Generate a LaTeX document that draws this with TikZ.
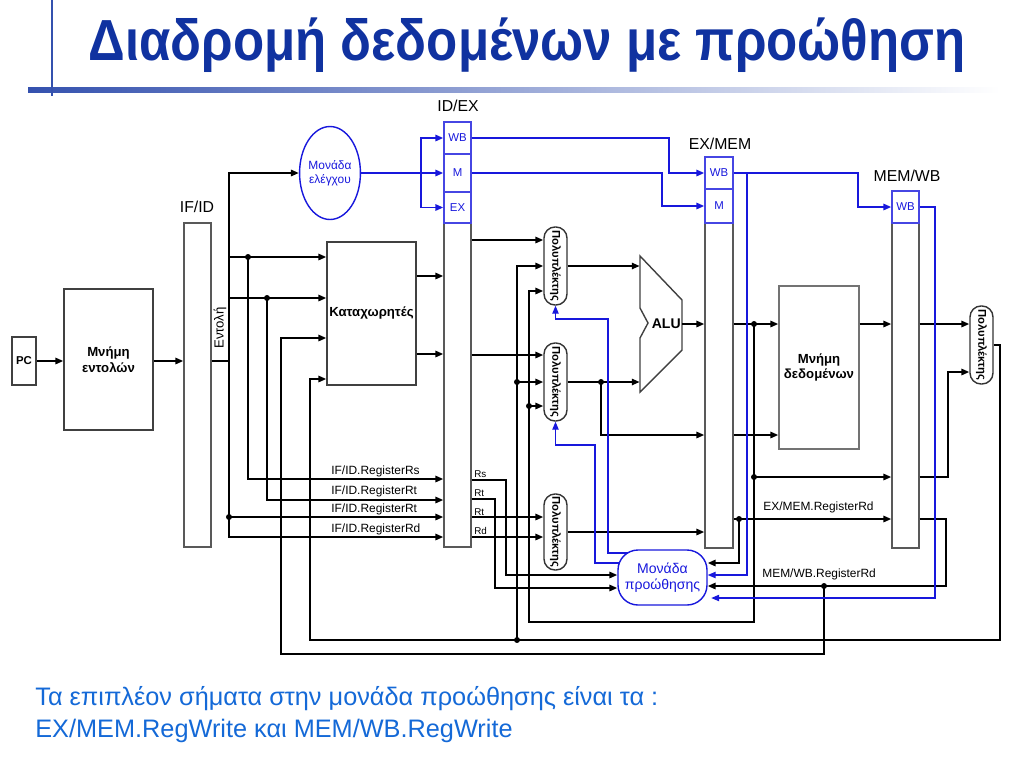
\documentclass[tikz,border=0pt]{standalone}
\usepackage{graphicx}
\usepackage{fontspec}
\setmainfont{Liberation Sans}
\usetikzlibrary{arrows.meta,shapes.geometric,fit}
\definecolor{titleblue}{RGB}{16,50,160}
\definecolor{ctrlblue}{RGB}{24,24,220}
\definecolor{noteblue}{RGB}{20,105,215}
\tikzset{
  preg/.style={draw=black!65, line width=0.8pt, inner sep=0pt},
  cbox/.style={draw=ctrlblue!80, line width=0.8pt, inner sep=0pt},
  cboxtext/.style={text=ctrlblue, font=\fontsize{6.5}{7}\selectfont},
  unit/.style={draw=black!75, line width=0.8pt, inner sep=0pt},
  unittext/.style={align=center, font=\bfseries\fontsize{7.5}{9}\selectfont},
  mux/.style={draw=black!80, line width=0.8pt, inner sep=0pt, rounded corners=0.22cm},
  wire/.style={line width=1.1pt},
  cwire/.style={ctrlblue, line width=1.1pt},
  fwire/.style={ctrlblue, line width=0.6pt},
  lbl/.style={anchor=base west, inner sep=0pt, font=\fontsize{6.8}{8}\selectfont},
  stage/.style={font=\fontsize{9}{10}\selectfont},
}
\begin{document}
\begin{tikzpicture}[x=0.02cm,y=-0.02cm,>={Triangle[length=4.5pt,width=3.6pt]}]
\useasboundingbox (0,0) rectangle (1024,768);
% title
\shade[left color=titleblue!85, right color=white] (28,87) rectangle (1000,92);
\draw[titleblue!85, line width=1.6pt] (52,0) -- (52,96);
\node[anchor=base west, inner sep=0pt, text=titleblue, font=\bfseries\fontsize{33}{36}\selectfont] (title) at (88,60) {\scalebox{0.88}[1]{Διαδρομή δεδομένων με προώθηση}};

% boxes
\node[unit, fit={(12,337) (36,385)}, label={[unittext, font=\bfseries\fontsize{6.5}{7}\selectfont]center:PC}] (pc) {};
\node[unit, fit={(64,289) (153,430)}, label={[unittext]center:Μνήμη\\εντολών}] (imem) {};
\node[unit, fit={(327,242) (416,385)}, label={[unittext]center:Καταχωρητές}] (regs) {};
\node[unit, draw=black!55, fit={(779,286) (859,449)}, label={[unittext]center:Μνήμη\\δεδομένων}] (dmem) {};
\foreach \name/\xa/\ya/\xb/\yb in {ifid/184/223/211/547, idex/444/223/471/547, exmem/705/223/733/548, mewb/892/223/919/548}
  \node[preg, fit={(\xa,\ya) (\xb,\yb)}] (\name) {};
\foreach \name/\txt/\xa/\ya/\xb/\yb in {idwb/WB/444/122/471/154, idm/M/444/154/471/192, idexb/EX/444/192/471/223, exwb/WB/705/157/733/189, exm/M/705/189/733/223, mwwb/WB/892/191/919/223}
  \node[cbox, fit={(\xa,\ya) (\xb,\yb)}, label={[cboxtext]center:\txt}] (\name) {};
\foreach \name/\xa/\ya/\xb/\yb in {muxa/544/227/567/305, muxb/544/343/567/421, muxc/544/494/567/570, wbmux/970/306/993/384}{
  \node[mux, fit={(\xa,\ya) (\xb,\yb)}] (\name) {};
  \node[rotate=-90, font=\bfseries\fontsize{6.4}{7}\selectfont] at (\name) {Πολυπλέκτης};
}
\node[ellipse, draw=ctrlblue, line width=0.8pt, inner sep=0pt, minimum width=1cm, minimum height=1.86cm, align=center, text=ctrlblue, font=\fontsize{6.8}{8}\selectfont] (ctrl) at (330,173) {Μονάδα\\ελέγχου};
\node[draw=ctrlblue, line width=0.8pt, rounded corners=0.4cm, inner sep=0pt, fit={(618,550) (707,605)}, label={[align=center, text=ctrlblue, font=\fontsize{8}{9.5}\selectfont]center:Μονάδα\\προώθησης}] (fwd) {};
\draw[black!75, line width=0.8pt] (640,256) -- (682,300) -- (682,350) -- (640,392) -- (640,338) -- (648,323) -- (640,308) -- cycle;
\node[fit={(640,256) (682,392)}, inner sep=0pt, label={[font=\bfseries\fontsize{8}{9}\selectfont, xshift=3pt]center:ALU}] (alu) {};

% labels
\node[stage] at (197,207) {IF/ID};
\node[stage] at (458,106) {ID/EX};
\node[stage] at (720,144) {EX/MEM};
\node[stage] at (907,176) {MEM/WB};
\node[rotate=90, font=\fontsize{7.5}{8}\selectfont] (instr) at (220,328) {Εντολή};
\foreach \y/\txt in {474/{IF/ID.RegisterRs}, 494/{IF/ID.RegisterRt}, 512/{IF/ID.RegisterRt}, 532/{IF/ID.RegisterRd}}
  \node[lbl] at (331,\y) {\txt};
\foreach \y/\txt in {477/Rs, 496/Rt, 515/Rt, 534/Rd}
  \node[lbl, font=\fontsize{5.6}{6}\selectfont] at (474,\y) {\txt};
\node[lbl] at (763,510) {EX/MEM.RegisterRd};
\node[lbl] at (762,577) {MEM/WB.RegisterRd};

% fetch and decode
\draw[wire,->] (pc.east) -- (imem.west |- pc.east);
\draw[wire,->] (imem.east |- pc.east) -- (ifid.west |- pc.east);
\draw[wire] (ifid.east |- pc.east) -- (229,361);
\draw[wire,<->] (ctrl.west) -| (229,537) -- (idex.west |- 0,537);
\draw[wire,->] (229,257) -- (regs.west |- 0,257);
\draw[wire,->] (229,298) -- (regs.west |- 0,298);
\draw[wire,->] (229,517) -- (idex.west |- 0,517);
\draw[wire,->] (248,257) |- (idex.west |- 0,479);
\draw[wire,->] (267,298) |- (idex.west |- 0,500);
\foreach \y in {276,354}
  \draw[wire,->] (regs.east |- 0,\y) -- (idex.west |- 0,\y);

% execute
\draw[wire,->] (idex.east |- 0,240) -- (muxa.west |- 0,240);
\draw[wire,->] (idex.east |- 0,355) -- (muxb.west |- 0,355);
\draw[wire,->] (idex.east |- 0,517) -- (muxc.west |- 0,517);
\draw[wire,->] (idex.east |- 0,537) -- (muxc.west |- 0,537);
\draw[wire,->] (idex.east |- 0,480) -| (506,575) -- (fwd.west |- 0,575);
\draw[wire,->] (idex.east |- 0,499) -| (495,588) -- (fwd.west |- 0,588);
\draw[wire,->] (muxa.east) -- (alu.west |- muxa.east);
\draw[wire,->] (muxb.east) -- (alu.west |- muxb.east);
\draw[wire,->] (601,382) |- (exmem.west |- 0,435);
\draw[wire,->] (muxc.east) -- (exmem.west |- muxc.east);
\draw[wire,->] (alu.east) -- (exmem.west |- alu.east);

% memory and write back
\draw[wire,->] (exmem.east |- 0,324) -- (dmem.west |- 0,324);
\draw[wire,->] (exmem.east |- 0,435) -- (dmem.west |- 0,435);
\draw[wire,->] (754,324) |- (529,622) -- (529,291) -- (muxa.west |- 0,291);
\draw[wire,->] (529,406) -- (muxb.west |- 0,406);
\draw[wire,->] (754,477) -- (mewb.west |- 0,477);
\draw[wire,->] (dmem.east |- 0,324) -- (mewb.west |- 0,324);
\draw[wire,->] (mewb.east |- 0,324) -- (wbmux.west |- 0,324);
\draw[wire,->] (mewb.east |- 0,477) -| (948,372) -- (wbmux.west |- 0,372);
\draw[wire,->] (wbmux.east) -| (1000,640) -| (310,379) -- (regs.west |- 0,379);
\draw[wire,->] (517,640) -- (517,266) -- (muxa.west |- 0,266);
\draw[wire,->] (517,382) -- (muxb.west |- 0,382);
\draw[wire,->] (exmem.east |- 0,519) -- (mewb.west |- 0,519);
\draw[wire,->] (739,519) |- (fwd.east |- 0,563);
\draw[wire,->] (mewb.east |- 0,519) -| (946,586) -- (fwd.east |- 0,586);
\draw[wire,->] (824,586) |- (281,654) -- (281,338) -- (regs.west |- 0,338);
\foreach \x/\y in {248/257, 267/298, 229/517, 601/382, 754/324, 754/477, 529/406, 517/382, 517/640, 739/519, 824/586}
  \fill (\x,\y) circle (1.7pt);

% control
\draw[cwire,->] (ctrl.east) -- (idm.west);
\draw[cwire,->] (421,173) |- (idwb.west);
\draw[cwire,->] (421,173) |- (idexb.west);
\draw[cwire,->] (idwb.east) -| (669,173) -- (exwb.west);
\draw[cwire,->] (idm.east) -| (662,206) -- (exm.west);
\draw[cwire,->] (exwb.east) -| (858,207) -- (mwwb.west);
\draw[fwire,->] (747,173) |- (fwd.east |- 0,575);
\draw[fwire,->, shorten >=2pt] (mwwb.east) -| (935,598) -- (fwd.east |- 0,598);
\draw[fwire,->] (628,553) -| (608,319) -| (muxa.south);
\draw[fwire,->] (619,563) -| (595,445) -| (muxb.south);

% note
\node[anchor=base west, inner sep=0pt, text=noteblue, font=\fontsize{14.4}{16}\selectfont] (note1) at (35,705) {Τα επιπλέον σήματα στην μονάδα προώθησης είναι τα :};
\node[anchor=base west, inner sep=0pt, text=noteblue, font=\fontsize{14.4}{16}\selectfont] (note2) at (35,737) {EX/MEM.RegWrite και MEM/WB.RegWrite};
\end{tikzpicture}
\end{document}
